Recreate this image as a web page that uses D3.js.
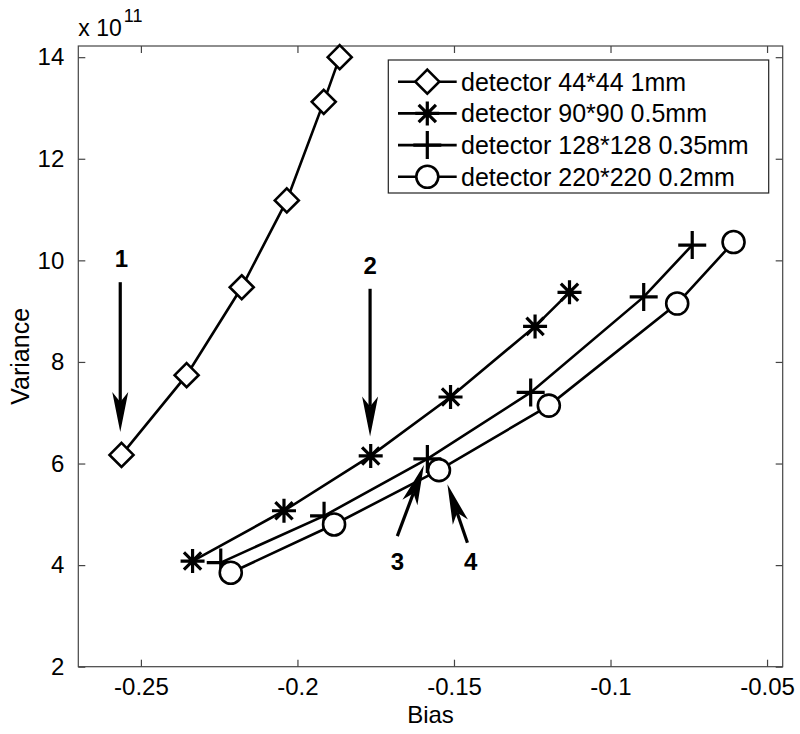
<!DOCTYPE html>
<html><head><meta charset="utf-8">
<script src="https://cdn.jsdelivr.net/npm/d3@7"></script>
<style>body{margin:0;background:#fff}svg{display:block}text{font-family:"Liberation Sans",Arial,sans-serif}</style>
</head><body>
<svg id="c" width="800" height="734"></svg>
<script>
const xTicks = [-0.25, -0.2, -0.15, -0.1, -0.05];
const xTickLabels = ["-0.25", "-0.2", "-0.15", "-0.1", "-0.05"];
const yTicks = [2, 4, 6, 8, 10, 12, 14];
const yTickLabels = ["2", "4", "6", "8", "10", "12", "14"];
const seriesNames = ["detector 44*44 1mm", "detector 90*90 0.5mm", "detector 128*128 0.35mm", "detector 220*220 0.2mm"];
const markers = ["diamond", "star", "plus", "circle"];
const bias44 = [-0.2562, -0.2354, -0.2178, -0.2034, -0.1916, -0.1865];
const var44 = [6.17, 7.74, 9.47, 11.18, 13.12, 14.0];
const bias90 = [-0.2335, -0.2043, -0.1766, -0.1511, -0.1241, -0.1131];
const var90 = [4.08, 5.07, 6.15, 7.31, 8.70, 9.37];
const bias128 = [-0.2245, -0.1915, -0.1585, -0.1255, -0.0894, -0.0739];
const var128 = [4.05, 4.97, 6.09, 7.40, 9.28, 10.30];
const bias220 = [-0.2213, -0.1883, -0.1548, -0.1197, -0.0787, -0.0607];
const var220 = [3.85, 4.80, 5.87, 7.14, 9.15, 10.36];
// annotations: label, tail (x,y), tip (x,y), label position
const annLabels = ["1", "2", "3", "4"];
const annTail = [[-0.2566, 9.57], [-0.1768, 9.44], [-0.1681, 4.57], [-0.1457, 4.44]];
const annTip = [[-0.2566, 6.62], [-0.1768, 6.53], [-0.1596, 5.97], [-0.1521, 5.59]];
const annText = [[-0.2562, 10.04], [-0.1768, 9.9], [-0.1681, 4.08], [-0.1447, 4.08]];

const xs = [bias44, bias90, bias128, bias220];
const ys = [var44, var90, var128, var220];
const series = seriesNames.map((n, i) => ({name: n, marker: markers[i], pts: xs[i].map((x, j) => [x, ys[i][j]])}));

const L = 78.3, R = 782.7, T = 46, B = 666.7;
const x = d3.scaleLinear().domain([-0.27, -0.045]).range([L, R]);
const y = d3.scaleLinear().domain([2, 14.22]).range([B, T]);
const svg = d3.select("#c");
const axisCol = "#444";

// axes
const gx = svg.append("g").attr("transform", `translate(0,${B})`)
  .call(d3.axisBottom(x).tickValues(xTicks).tickFormat((d, i) => xTickLabels[i]).tickSizeInner(-7).tickSizeOuter(0).tickPadding(11));
const gxt = svg.append("g").attr("transform", `translate(0,${T})`)
  .call(d3.axisTop(x).tickValues(xTicks).tickFormat("").tickSizeInner(-7).tickSizeOuter(0));
const gy = svg.append("g").attr("transform", `translate(${L},0)`)
  .call(d3.axisLeft(y).tickValues(yTicks).tickFormat((d, i) => yTickLabels[i]).tickSizeInner(-7).tickSizeOuter(0).tickPadding(14));
const gyr = svg.append("g").attr("transform", `translate(${R},0)`)
  .call(d3.axisRight(y).tickValues(yTicks).tickFormat("").tickSizeInner(-7).tickSizeOuter(0));
[gx, gxt, gy, gyr].forEach(g => {
  g.select(".domain").remove();
  g.selectAll("line").attr("stroke", axisCol).attr("stroke-width", 1.2);
  g.selectAll("text").attr("font-size", 24).attr("fill", "#000").attr("font-family", '"Liberation Sans",Arial,sans-serif');
});
gx.selectAll("text").attr("dy", "0.71em");
svg.append("rect").attr("x", L).attr("y", T).attr("width", R - L).attr("height", B - T)
  .attr("fill", "none").attr("stroke", axisCol).attr("stroke-width", 1.2);

// exponent
const ex = svg.append("text").attr("x", L).attr("y", 36).style("font-size", "23px");
ex.append("tspan").style("font-size", "23px").text("x 10");
ex.append("tspan").style("font-size", "18px").attr("dx", 2).attr("dy", -14).text("11");

// axis labels
svg.append("text").attr("x", (L + R) / 2).attr("y", 723).attr("text-anchor", "middle").attr("font-size", 24).text("Bias");
svg.append("text").attr("transform", `translate(29,${(T + B) / 2}) rotate(-90)`).attr("text-anchor", "middle").attr("font-size", 25).text("Variance");

// markers
function drawMarker(g, type, cx, cy) {
  const sw = 2.6;
  if (type === "diamond") {
    const r = 12;
    g.append("path").attr("d", `M${cx},${cy - r}L${cx + r},${cy}L${cx},${cy + r}L${cx - r},${cy}Z`)
      .attr("fill", "#fff").attr("stroke", "#000").attr("stroke-width", sw);
  } else if (type === "circle") {
    g.append("circle").attr("cx", cx).attr("cy", cy).attr("r", 11)
      .attr("fill", "#fff").attr("stroke", "#000").attr("stroke-width", sw);
  } else if (type === "plus") {
    const r = 14;
    g.append("path").attr("d", `M${cx - r},${cy}H${cx + r}M${cx},${cy - r}V${cy + r}`)
      .attr("stroke", "#000").attr("stroke-width", sw + 0.6).attr("fill", "none");
  } else if (type === "star") {
    const r = 12, d = r * 0.72;
    g.append("path").attr("d", `M${cx - r},${cy}H${cx + r}M${cx},${cy - r}V${cy + r}M${cx - d},${cy - d}L${cx + d},${cy + d}M${cx - d},${cy + d}L${cx + d},${cy - d}`)
      .attr("stroke", "#000").attr("stroke-width", sw + 0.6).attr("fill", "none");
  }
}
const line = d3.line().x(d => x(d[0])).y(d => y(d[1]));
series.forEach(s => {
  const g = svg.append("g");
  g.append("path").attr("d", line(s.pts)).attr("fill", "none").attr("stroke", "#000").attr("stroke-width", 2.6);
  s.pts.forEach(p => drawMarker(g, s.marker, x(p[0]), y(p[1])));
});

// annotations
function arrow(x1, y1, x2, y2) {
  const g = svg.append("g");
  const ang = Math.atan2(y2 - y1, x2 - x1);
  const hl = 40, hw = 8, back = 30;
  const ux = Math.cos(ang), uy = Math.sin(ang), px = -uy, py = ux;
  const bx = x2 - ux * hl, by = y2 - uy * hl;
  const nx = x2 - ux * back, ny = y2 - uy * back;
  g.append("line").attr("x1", x1).attr("y1", y1).attr("x2", nx).attr("y2", ny).attr("stroke", "#000").attr("stroke-width", 3.2);
  g.append("path").attr("d", `M${x2},${y2}L${bx + px * hw},${by + py * hw}L${nx},${ny}L${bx - px * hw},${by - py * hw}Z`).attr("fill", "#000");
}
annLabels.forEach((lab, i) => {
  arrow(x(annTail[i][0]), y(annTail[i][1]), x(annTip[i][0]), y(annTip[i][1]));
  svg.append("text").attr("x", x(annText[i][0])).attr("y", y(annText[i][1])).attr("dy", "0.36em")
    .attr("text-anchor", "middle").attr("font-size", 24).attr("font-weight", "bold").text(lab);
});

// legend
const lg = svg.append("g");
const lx0 = 388.3, ly0 = 60, lw = 768.7 - 388.3, lh = 133;
lg.append("rect").attr("x", lx0).attr("y", ly0).attr("width", lw).attr("height", lh)
  .attr("fill", "#fff").attr("stroke", "#222").attr("stroke-width", 1.2);
series.forEach((s, i) => {
  const cy = 81.7 + i * 31.7;
  lg.append("line").attr("x1", 398).attr("x2", 456.7).attr("y1", cy).attr("y2", cy).attr("stroke", "#000").attr("stroke-width", 2.6);
  drawMarker(lg, s.marker, 427.3, cy);
  lg.append("text").attr("x", 461).attr("y", cy).attr("dy", "0.36em").attr("font-size", 25).text(s.name);
});
</script>
</body></html>
